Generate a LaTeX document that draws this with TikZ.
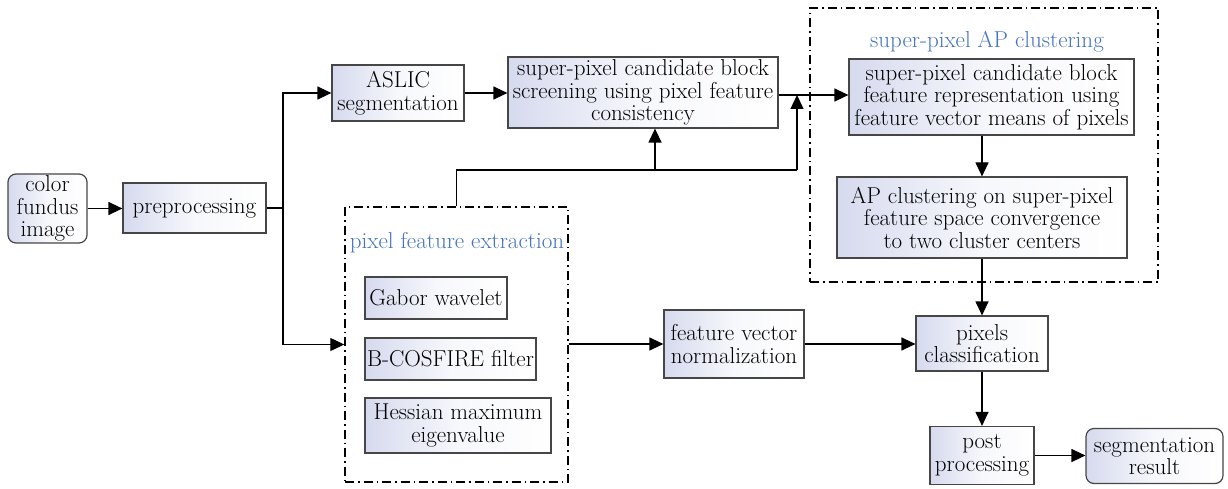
\documentclass[tikz,border=0pt]{standalone}
\usepackage{fontspec}
\setmainfont{Latin Modern Roman}
\usetikzlibrary{arrows.meta,calc}
\definecolor{boxc}{RGB}{214,218,238}
\definecolor{edgec}{RGB}{70,70,70}
\definecolor{titlec}{RGB}{68,114,196}
\tikzset{
  box/.style={draw=edgec, line width=1.2pt, left color=boxc, right color=white, middle color=boxc!20!white,
    align=center, inner sep=1pt, font=\fontsize{23}{22.5}\selectfont},
  rbox/.style={box, rounded corners=8pt},
  grp/.style={draw=black, line width=1.4pt, dash pattern=on 9pt off 4pt on 1.5pt off 4pt},
  ttl/.style={text=titlec, font=\fontsize{23}{23}\selectfont, inner sep=0pt},
  arr/.style={draw=black, line width=1.2pt, -{Triangle[length=14pt,width=13pt]}},
  ln/.style={draw=black, line width=1.2pt},
}
\begin{document}
\begin{tikzpicture}[x=1pt,y=-1pt]
\useasboundingbox (0,0) rectangle (1228,489);
% nodes
\node[rbox, minimum width=79pt, minimum height=69pt] (cfi) at (47.5,208.5) {color\\fundus\\image};
\node[box, minimum width=143pt, minimum height=50pt] (prep) at (194.5,208) {preprocessing};
\node[box, minimum width=132pt, minimum height=56pt] (aslic) at (398,93) {ASLIC\\segmentation};
\node[box, minimum width=270pt, minimum height=71pt] (screen) at (643,92.5) {super-pixel candidate block\\screening using pixel feature\\consistency};
\node[grp, minimum width=348pt, minimum height=274pt] (apg) at (984,145) {};
\node[ttl] (apt) at (987,42) {super-pixel AP clustering};
\node[box, minimum width=285pt, minimum height=76pt] (rep) at (991.5,97) {super-pixel candidate block\\feature representation using\\feature vector means of pixels};
\node[box, minimum width=290pt, minimum height=81pt] (apc) at (982,217.5) {AP clustering on super-pixel\\feature space convergence\\to two cluster centers};
\node[grp, minimum width=223pt, minimum height=275pt] (pfe) at (456.5,344.5) {};
\node[ttl] (pft) at (457,243) {pixel feature extraction};
\node[box, minimum width=142pt, minimum height=42pt] (gab) at (436,298) {Gabor wavelet};
\node[box, minimum width=171pt, minimum height=42pt] (bcos) at (450.5,359) {B-COSFIRE filter};
\node[box, minimum width=186pt, minimum height=55pt] (hes) at (458,425.5) {Hessian maximum\\eigenvalue};
\node[box, minimum width=140pt, minimum height=68pt] (fvn) at (734,344) {feature vector\\normalization};
\node[box, minimum width=132pt, minimum height=55pt] (pc) at (982,343.5) {pixels\\classification};
\node[box, minimum width=104pt, minimum height=58pt] (pp) at (982,455.5) {post\\processing};
\node[rbox, minimum width=137pt, minimum height=55pt] (seg) at (1154.5,456) {segmentation\\result};
% coordinates
\coordinate (br) at (283,208);
\coordinate (j1) at (456.5,170);
\coordinate (j3) at (655,170);
\coordinate (j2) at (797,170);
\coordinate (jt) at (797,95);
% connectors
\draw[arr] (cfi.east) -- (cfi.east -| prep.west);
\draw[ln] (prep.east) -- (br);
\draw[arr] (br) |- (aslic.west);
\draw[arr] (br) |- (pfe.west);
\draw[arr] (aslic.east) -- (aslic.east -| screen.west);
\draw[arr] (screen.east |- jt) -- (jt -| rep.west);
\draw[ln] (pfe.north) -- (j1) -- (j2);
\draw[arr] (j2) -- (jt);
\draw[arr] (j3) -- (j3 |- screen.south);
\draw[arr] (apc.north |- rep.south) -- (apc.north);
\draw[ln] (apc.south) -- (apc.south |- apg.south);
\draw[arr] (apc.south |- apg.south) -- (pc.north);
\draw[arr] (pfe.east |- fvn.west) -- (fvn.west);
\draw[arr] (fvn.east) -- (fvn.east -| pc.west);
\draw[arr] (pc.south) -- (pp.north);
\draw[arr] (pp.east) -- (pp.east -| seg.west);
\end{tikzpicture}
\end{document}
